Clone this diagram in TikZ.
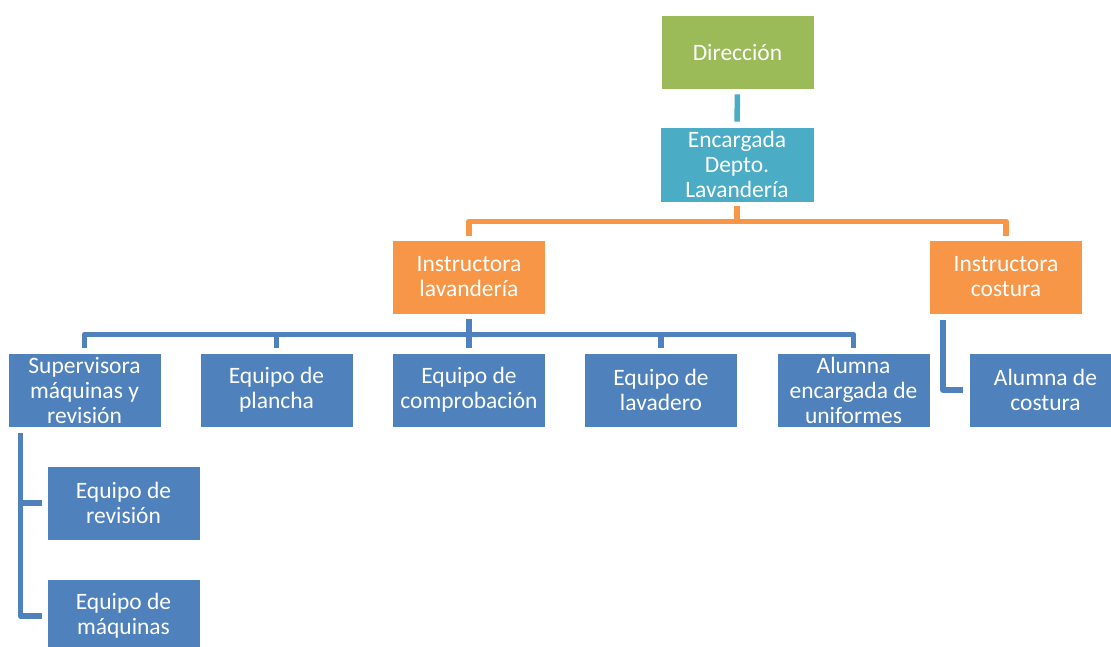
\documentclass[tikz,border=0pt]{standalone}
\usepackage{fontspec}
\setmainfont{Carlito}
\definecolor{cgreen}{HTML}{9BBB59}
\definecolor{cteal}{HTML}{4BACC6}
\definecolor{corange}{HTML}{F79646}
\definecolor{cblue}{HTML}{4F81BD}
\begin{document}
\begin{tikzpicture}[x=1pt,y=1pt,
  box/.style={draw=white, line width=0.8pt, minimum width=153pt, minimum height=74pt,
    text=white, align=center, inner sep=0pt,
    font=\fontsize{23.5}{25}\selectfont},
  gbox/.style={box, fill=cgreen},
  tbox/.style={box, fill=cteal},
  obox/.style={box, fill=corange},
  bbox/.style={box, fill=cblue},
  conn/.style={line width=5.5pt, line join=round},
  tconn/.style={conn, draw=cteal},
  oconn/.style={conn, draw=corange},
  bconn/.style={conn, draw=cblue}]
\useasboundingbox (0,0) rectangle (1111,-646);
\clip (0,0) rectangle (1111,-646);
\fill[white] (0,0) rectangle (1111,-646);
% nodes
\node[gbox] (dir) at (737.5,-52) {Dirección};
\node[tbox, minimum width=154pt, minimum height=75pt] (enc) at (737,-164.5) {Encargada\\Depto.\\Lavandería};
\node[obox] (il) at (469,-277) {Instructora\\lavandería};
\node[obox] (ic) at (1006,-277) {Instructora\\costura};
\node[bbox] (sup) at (84.5,-390) {Supervisora\\máquinas y\\revisión};
\node[bbox] (pla) at (276.5,-390) {Equipo de\\plancha};
\node[bbox] (com) at (469,-390) {Equipo de\\comprobación};
\node[bbox] (lav) at (661,-390) {Equipo de\\lavadero};
\node[bbox] (alu) at (853.5,-390) {Alumna\\encargada de\\uniformes};
\node[bbox] (acos) at (1045.5,-390) {Alumna de\\costura};
\node[bbox] (erev) at (123.5,-503) {Equipo de\\revisión};
\node[bbox] (emaq) at (123.5,-616) {Equipo de\\máquinas};
% connectors
\draw[tconn, shorten <=5pt, shorten >=5pt] (dir.south) -- (enc.north);
\draw[oconn, shorten <=4pt, shorten >=4pt] (enc.south) -- ++(0,-19) -| (il.north);
\draw[oconn, shorten <=4pt, shorten >=4pt] (enc.south) -- ++(0,-19) -| (ic.north);
\foreach \c in {sup,pla,com,lav,alu}
  \draw[bconn, shorten <=5pt, shorten >=5pt] (il.south) -- ++(0,-20) -| (\c.north);
\draw[bconn, shorten <=6pt, shorten >=6pt] ([xshift=14pt]ic.south west) |- (acos.west);
\draw[bconn, shorten <=6pt, shorten >=5pt] ([xshift=13pt]sup.south west) |- (erev.west);
\draw[bconn, shorten <=6pt, shorten >=5pt] ([xshift=13pt]sup.south west) |- (emaq.west);
\end{tikzpicture}
\end{document}
